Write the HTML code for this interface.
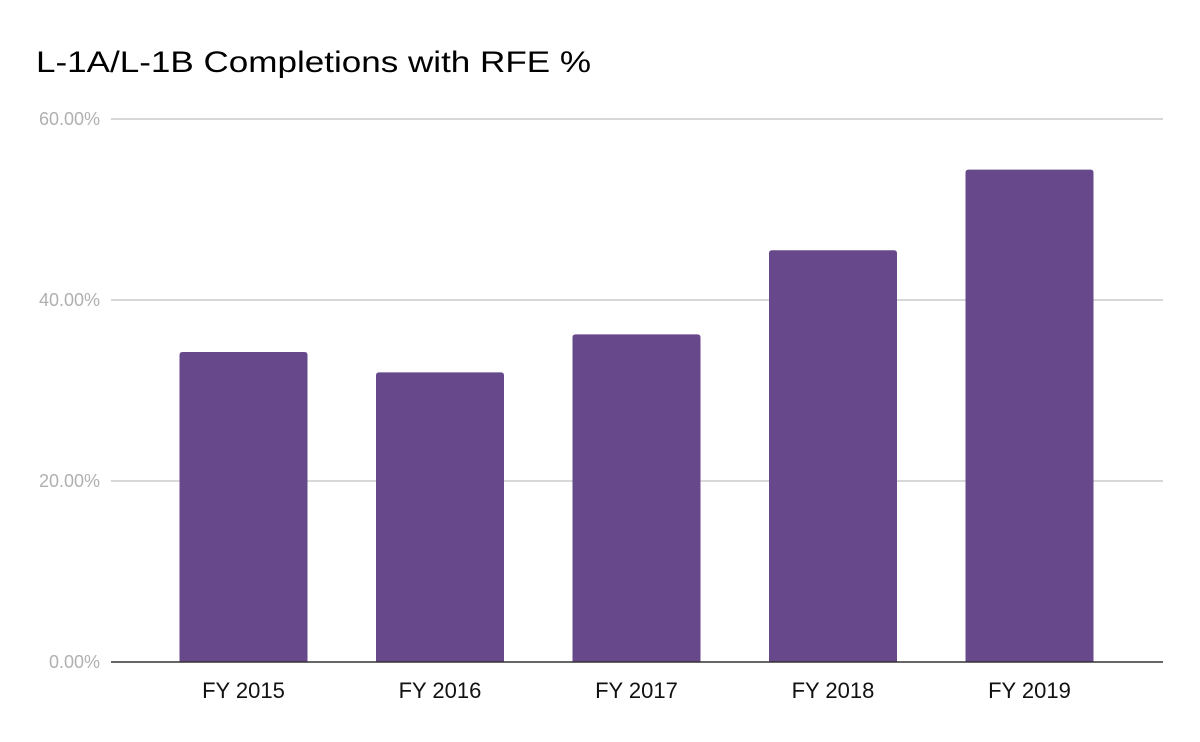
<!DOCTYPE html>
<html><head><meta charset="utf-8"><style>
html,body{margin:0;padding:0;background:#fff;}
svg{display:block;font-family:"Liberation Sans",sans-serif;}
</style></head><body>
<svg id="chart" width="1200" height="742" viewBox="0 0 1200 742">
<rect width="1200" height="742" fill="#fff"/>
<text x="36" y="72" font-size="30" fill="#000" textLength="555" lengthAdjust="spacingAndGlyphs">L-1A/L-1B Completions with RFE %</text>
<g id="grid"></g>
<g id="bars"></g>
<g id="xlabels"></g>
</svg>
<script>
const categories = ["FY 2015","FY 2016","FY 2017","FY 2018","FY 2019"];
const values = [34.25, 32.0, 36.2, 45.5, 54.4];
const yTicks = [0, 20, 40, 60];
const yTickLabels = ["0.00%","20.00%","40.00%","60.00%"];

const NS = "http://www.w3.org/2000/svg";
const y0 = 662, yTop = 119, yMax = 60;
const plotL = 111, plotR = 1163;
function yScale(v){ return y0 - (v / yMax) * (y0 - yTop); }
const firstCenter = 243.5, step = 196.5, barW = 128;
function xCenter(i){ return firstCenter + i * step; }

const grid = document.getElementById('grid');
yTicks.forEach((t, i) => {
  const y = yScale(t);
  if (t !== 0) {
    const l = document.createElementNS(NS, 'line');
    l.setAttribute('x1', plotL); l.setAttribute('x2', plotR);
    l.setAttribute('y1', y); l.setAttribute('y2', y);
    l.setAttribute('stroke', '#cccccc'); l.setAttribute('stroke-width', '1.5');
    
    
    grid.appendChild(l);
  }
  const tx = document.createElementNS(NS, 'text');
  tx.setAttribute('x', 100); tx.setAttribute('y', y + 6);
  tx.setAttribute('text-anchor', 'end');
  tx.setAttribute('font-size', '18'); tx.setAttribute('fill', '#b0b0b0');
  tx.textContent = yTickLabels[i];
  
  
  grid.appendChild(tx);
});

const bars = document.getElementById('bars');
values.forEach((v, i) => {
  const yt = yScale(v), x = xCenter(i) - barW / 2, r = 3;
  const p = document.createElementNS(NS, 'path');
  p.setAttribute('d', `M${x},${y0} L${x},${yt + r} Q${x},${yt} ${x + r},${yt} L${x + barW - r},${yt} Q${x + barW},${yt} ${x + barW},${yt + r} L${x + barW},${y0} Z`);
  p.setAttribute('fill', '#67488b');
  
  
  bars.appendChild(p);
});

const axis = document.createElementNS(NS, 'line');
axis.setAttribute('x1', plotL); axis.setAttribute('x2', plotR);
axis.setAttribute('y1', y0); axis.setAttribute('y2', y0);
axis.setAttribute('stroke', '#333'); axis.setAttribute('stroke-width', '1.5');


document.getElementById('chart').appendChild(axis);

const xl = document.getElementById('xlabels');
categories.forEach((c, i) => {
  const t = document.createElementNS(NS, 'text');
  t.setAttribute('x', xCenter(i)); t.setAttribute('y', 698);
  t.setAttribute('text-anchor', 'middle');
  t.setAttribute('font-size', '22'); t.setAttribute('fill', '#111');
  t.textContent = c;
  
  
  xl.appendChild(t);
});
</script>
</body></html>
